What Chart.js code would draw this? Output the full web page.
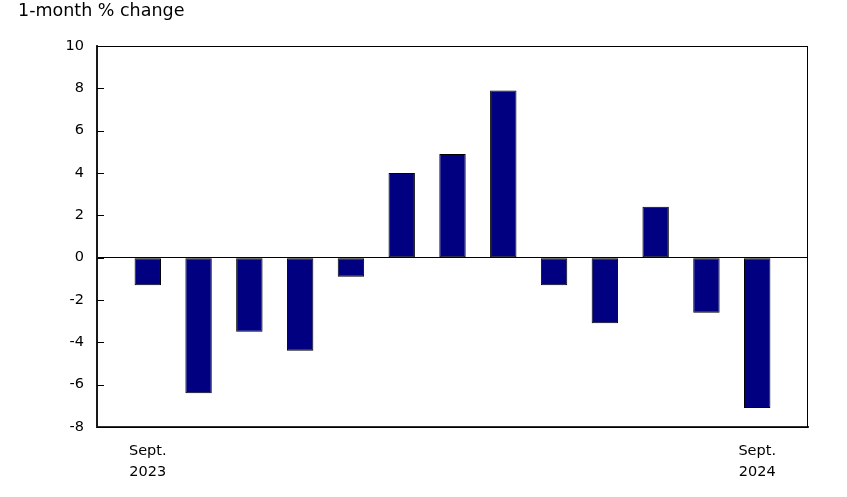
<!DOCTYPE html>
<html>
<head>
<meta charset="utf-8">
<script src="https://cdn.jsdelivr.net/npm/chart.js@4/dist/chart.umd.min.js"></script>
<style>
  html, body { margin: 0; padding: 0; background: #fff; }
  #wrap { width: 847px; height: 497px; position: relative; }
</style>
</head>
<body>
<div id="wrap"><canvas id="changeChart"></canvas></div>
<script>
// monthly values, Sept. 2023 -> Sept. 2024
const months = [
  ['Sept.', '2023'], '', '', '', '', '', '', '', '', '', '', '', ['Sept.', '2024']
];
const pctChange = [-1.3, -6.4, -3.5, -4.4, -0.9, 4.0, 4.9, 7.9, -1.3, -3.1, 2.4, -2.6, -7.1];
const yTicks = [-8, -6, -4, -2, 0, 2, 4, 6, 8, 10];

// one empty slot on each side so the bars sit away from the frame
const labels = [''].concat(months, ['']);
const values = [null].concat(pctChange, [null]);

const fontFam = '"DejaVu Sans", Verdana, sans-serif';

// box around the plot area + y tick marks pointing inward
const frame = {
  id: 'frame',
  afterDraw(chart) {
    const { ctx, chartArea: a } = chart;
    const y = chart.scales.y;
    ctx.save();
    ctx.strokeStyle = '#000';
    ctx.lineWidth = 1;
    ctx.strokeRect(a.left, a.top + 0.5, a.right - a.left - 0.5, a.bottom - a.top);
    ctx.beginPath();
    y.ticks.forEach(t => {
      const py = Math.round(y.getPixelForValue(t.value)) + 0.5;
      ctx.moveTo(a.left, py);
      ctx.lineTo(a.left + 7, py);
    });
    ctx.stroke();
    ctx.restore();
  }
};

const ctx = document.getElementById('changeChart').getContext('2d');
new Chart(ctx, {
  type: 'bar',
  data: {
    labels,
    datasets: [{
      label: '1-month % change',
      data: values,
      backgroundColor: '#000080',
      borderColor: '#000',
      borderWidth: 1,
      borderSkipped: false,
      barPercentage: 0.52,
      categoryPercentage: 1
    }]
  },
  options: {
    responsive: true,
    maintainAspectRatio: false,
    animation: false,
    layout: { padding: { left: 18, right: 39, top: 0, bottom: 0 } },
    plugins: {
      legend: { display: false },
      tooltip: { enabled: false },
      title: {
        display: true,
        text: '1-month % change',
        align: 'start',
        color: '#000',
        font: { family: fontFam, size: 17.5, weight: 'normal' },
        padding: { top: 1, bottom: 24 }
      }
    },
    scales: {
      x: {
        offset: false,
        grid: { display: false, drawTicks: false },
        border: { display: true, color: '#333', width: 2 },
        ticks: {
          autoSkip: false,
          maxRotation: 0,
          padding: 14,
          color: '#000',
          font: { family: fontFam, size: 14.5, lineHeight: 1.45 }
        },
        afterFit(scale) { scale.height = 70; }
      },
      y: {
        min: -8,
        max: 10,
        afterBuildTicks(scale) { scale.ticks = yTicks.map(v => ({ value: v })); },
        grid: {
          drawOnChartArea: true,
          drawTicks: false,
          color: c => (c.tick && c.tick.value === 0) ? '#000' : 'rgba(0,0,0,0)',
          lineWidth: 1
        },
        border: { display: true, color: '#333', width: 2 },
        ticks: {
          padding: 13,
          color: '#000',
          font: { family: fontFam, size: 14.5 }
        },
        afterFit(scale) { scale.width = 79; }
      }
    }
  },
  plugins: [frame]
});
</script>
</body>
</html>
